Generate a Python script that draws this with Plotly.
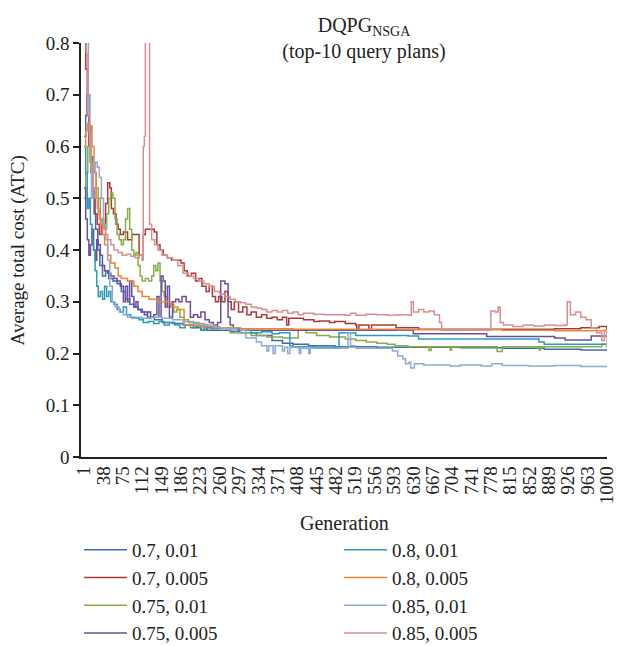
import plotly.graph_objects as go

# ---------------- data (step breakpoints) ----------------
series_names = ["0.7, 0.01", "0.7, 0.005", "0.75, 0.01", "0.75, 0.005",
                "0.8, 0.01", "0.8, 0.005", "0.85, 0.01", "0.85, 0.005"]

x_ticks = [1, 38, 75, 112, 149, 186, 223, 260, 297, 334, 371, 408, 445, 482, 519,
           556, 593, 630, 667, 704, 741, 778, 815, 852, 889, 926, 963, 1000]
y_ticks = [0, 0.1, 0.2, 0.3, 0.4, 0.5, 0.6, 0.7, 0.8]

g_07_001 = [1, 4, 7, 11, 14, 17, 20, 23, 27, 31, 36, 42, 48, 56, 64, 72, 80, 88, 96, 104, 112, 122,
            135, 150, 170, 190, 210, 225, 230, 236, 260, 280, 300, 330, 360, 380, 400, 430, 480, 560,
            640, 720, 800, 880, 950, 1000]
v_07_001 = [0.62, 0.66, 0.70, 0.64, 0.58, 0.52, 0.47, 0.44, 0.40, 0.37, 0.35, 0.36, 0.345, 0.34, 0.335,
            0.32, 0.305, 0.295, 0.29, 0.285, 0.28, 0.27, 0.265, 0.26, 0.258, 0.255, 0.25, 0.245, 0.255,
            0.245, 0.245, 0.243, 0.24, 0.235, 0.225, 0.22, 0.218, 0.215, 0.213, 0.212, 0.212, 0.211,
            0.21, 0.208, 0.207, 0.207]

g_07_0005 = [1, 4, 7, 10, 14, 18, 22, 26, 30, 34, 38, 42, 46, 50, 53, 57, 62, 66, 70, 76, 84, 92, 100,
             106, 110, 114, 118, 125, 135, 140, 146, 152, 160, 168, 178, 186, 192, 198, 206, 214, 220,
             226, 234, 240, 246, 252, 258, 264, 270, 276, 282, 288, 296, 304, 312, 320, 330, 340, 350,
             360, 370, 380, 388, 392, 420, 440, 450, 470, 480, 500, 520, 522, 526, 540, 545, 550, 580,
             597, 640, 700, 800, 900, 950, 985, 1000]
v_07_0005 = [0.9, 0.75, 0.66, 0.6, 0.55, 0.5, 0.47, 0.45, 0.43, 0.46, 0.45, 0.49, 0.53, 0.52, 0.48,
             0.47, 0.45, 0.44, 0.43, 0.435, 0.42, 0.43, 0.43, 0.39, 0.39, 0.43, 0.44, 0.44, 0.435, 0.41,
             0.40, 0.39, 0.385, 0.38, 0.38, 0.375, 0.36, 0.35, 0.355, 0.34, 0.345, 0.33, 0.32, 0.33,
             0.31, 0.30, 0.31, 0.30, 0.32, 0.30, 0.285, 0.30, 0.28, 0.29, 0.275, 0.28, 0.27, 0.275,
             0.268, 0.27, 0.265, 0.27, 0.255, 0.268, 0.265, 0.262, 0.263, 0.26, 0.262, 0.258, 0.255,
             0.245, 0.255, 0.255, 0.245, 0.255, 0.255, 0.25, 0.247, 0.247, 0.247, 0.248, 0.25, 0.252,
             0.24]

g_075_001 = [1, 4, 8, 12, 16, 20, 24, 28, 32, 36, 40, 44, 48, 52, 56, 60, 64, 68, 72, 76, 80, 84, 88,
             92, 96, 100, 104, 108, 112, 118, 124, 130, 134, 138, 142, 146, 150, 154, 160, 166, 172,
             178, 184, 192, 200, 210, 220, 235, 250, 280, 320, 350, 380, 410, 425, 445, 470, 500, 520,
             540, 560, 580, 595, 620, 660, 664, 700, 703, 790, 800, 870, 873, 940, 990, 1000]
v_075_001 = [0.5, 0.55, 0.6, 0.57, 0.56, 0.55, 0.52, 0.5, 0.46, 0.45, 0.44, 0.47, 0.5, 0.51, 0.5, 0.46,
             0.43, 0.42, 0.41, 0.42, 0.46, 0.48, 0.44, 0.40, 0.39, 0.395, 0.37, 0.35, 0.34, 0.345, 0.34,
             0.35, 0.37, 0.36, 0.375, 0.34, 0.32, 0.31, 0.29, 0.295, 0.28, 0.285, 0.27, 0.265, 0.26,
             0.26, 0.255, 0.25, 0.25, 0.24, 0.235, 0.232, 0.23, 0.245, 0.24, 0.235, 0.232, 0.228,
             0.225, 0.222, 0.22, 0.218, 0.215, 0.213, 0.206, 0.213, 0.207, 0.213, 0.204, 0.213, 0.207,
             0.213, 0.213, 0.218, 0.212]

g_075_0005 = [1, 4, 7, 10, 13, 16, 19, 22, 25, 28, 32, 36, 40, 46, 52, 58, 64, 70, 76, 80, 84, 88,
              92, 96, 100, 104, 110, 116, 122, 128, 134, 140, 144, 148, 152, 156, 160, 164, 170, 176,
              182, 188, 196, 204, 210, 218, 224, 232, 240, 248, 256, 262, 270, 276, 280, 286, 296,
              620, 630, 760, 770, 900, 920, 960, 970, 1000]
v_075_0005 = [0.52, 0.46, 0.42, 0.39, 0.41, 0.44, 0.40, 0.38, 0.42, 0.41, 0.39, 0.37, 0.36, 0.355,
              0.35, 0.345, 0.34, 0.33, 0.30, 0.33, 0.30, 0.34, 0.31, 0.29, 0.30, 0.285, 0.28, 0.275,
              0.28, 0.27, 0.275, 0.31, 0.27, 0.35, 0.34, 0.29, 0.33, 0.27, 0.30, 0.305, 0.30, 0.31,
              0.30, 0.27, 0.275, 0.27, 0.28, 0.265, 0.26, 0.255, 0.26, 0.34, 0.335, 0.27, 0.255, 0.25,
              0.245, 0.245, 0.238, 0.238, 0.233, 0.23, 0.226, 0.226, 0.234, 0.234]

g_08_001 = [1, 4, 7, 10, 13, 16, 19, 22, 25, 28, 32, 36, 40, 44, 48, 52, 58, 64, 70, 76, 82, 90, 98,
            106, 114, 124, 134, 144, 154, 164, 174, 184, 194, 204, 214, 224, 234, 244, 260, 280, 300,
            320, 340, 360, 374, 394, 400, 440, 480, 488, 500, 520, 620, 640, 860, 870, 880, 1000]
v_08_001 = [0.6, 0.55, 0.48, 0.5, 0.45, 0.42, 0.40, 0.36, 0.33, 0.31, 0.32, 0.305, 0.33, 0.31, 0.32,
            0.30, 0.295, 0.285, 0.28, 0.29, 0.275, 0.27, 0.268, 0.265, 0.26, 0.262, 0.258, 0.262,
            0.255, 0.26, 0.255, 0.25, 0.255, 0.25, 0.252, 0.245, 0.25, 0.248, 0.25, 0.248, 0.245,
            0.24, 0.242, 0.238, 0.24, 0.215, 0.213, 0.212, 0.212, 0.24, 0.24, 0.235, 0.234, 0.228,
            0.228, 0.222, 0.218, 0.218]

g_08_0005 = [1, 4, 8, 12, 16, 20, 24, 28, 32, 36, 40, 46, 52, 60, 66, 72, 84, 96, 104, 112, 125, 140,
             160, 168, 180, 192, 220, 260, 300, 400, 600, 800, 900, 1000]
v_08_0005 = [0.6, 0.63, 0.645, 0.64, 0.6, 0.55, 0.5, 0.47, 0.45, 0.43, 0.41, 0.39, 0.375, 0.365, 0.35,
             0.345, 0.34, 0.33, 0.32, 0.31, 0.305, 0.30, 0.30, 0.29, 0.285, 0.255, 0.252, 0.25, 0.248,
             0.247, 0.246, 0.245, 0.244, 0.242]

g_085_001 = [1, 6, 9, 12, 15, 18, 22, 26, 30, 34, 38, 42, 46, 50, 55, 60, 68, 76, 84, 92, 100, 110,
             130, 150, 170, 190, 210, 230, 250, 270, 290, 300, 310, 330, 340, 350, 354, 362, 366, 380,
             384, 390, 394, 410, 412, 415, 430, 433, 500, 505, 510, 520, 580, 590, 600, 610, 615, 622,
             625, 632, 650, 700, 720, 760, 780, 800, 850, 900, 950, 1000]
v_085_001 = [0.9, 0.85, 0.7, 0.6, 0.5, 0.55, 0.57, 0.56, 0.54, 0.5, 0.45, 0.42, 0.38, 0.33, 0.3, 0.29,
             0.28, 0.275, 0.27, 0.268, 0.27, 0.268, 0.27, 0.268, 0.265, 0.262, 0.258, 0.255, 0.25,
             0.248, 0.24, 0.245, 0.23, 0.222, 0.215, 0.205, 0.215, 0.2, 0.215, 0.205, 0.212, 0.2,
             0.212, 0.21, 0.2, 0.21, 0.2, 0.21, 0.21, 0.24, 0.215, 0.21, 0.21, 0.205, 0.195, 0.19,
             0.18, 0.183, 0.172, 0.18, 0.178, 0.176, 0.178, 0.176, 0.18, 0.177, 0.176, 0.177, 0.175,
             0.176]

g_085_0005 = [1, 5, 8, 11, 14, 18, 22, 26, 30, 34, 38, 42, 46, 52, 58, 66, 74, 82, 90, 98, 106, 112,
              114, 116, 118, 124, 126, 130, 136, 142, 150, 160, 170, 180, 190, 200, 210, 220, 230, 240,
              250, 260, 270, 280, 290, 300, 310, 320, 330, 340, 350, 360, 370, 380, 390, 400, 410, 420,
              440, 460, 480, 500, 510, 520, 540, 560, 580, 600, 620, 626, 630, 640, 650, 660, 670, 680,
              684, 700, 775, 778, 786, 792, 796, 802, 820, 840, 860, 880, 900, 920, 924, 930, 940, 950,
              960, 970, 980, 990, 995, 1000]
v_085_0005 = [0.9, 0.78, 0.66, 0.62, 0.56, 0.52, 0.5, 0.48, 0.46, 0.45, 0.44, 0.43, 0.42, 0.41, 0.40,
              0.395, 0.39, 0.392, 0.388, 0.385, 0.39, 0.38, 0.6, 0.62, 0.9, 0.9, 0.45, 0.42, 0.41,
              0.40, 0.39, 0.385, 0.38, 0.37, 0.355, 0.35, 0.345, 0.34, 0.335, 0.33, 0.32, 0.315, 0.31,
              0.305, 0.30, 0.298, 0.295, 0.29, 0.288, 0.285, 0.28, 0.283, 0.28, 0.283, 0.278, 0.28,
              0.275, 0.278, 0.276, 0.275, 0.275, 0.274, 0.278, 0.274, 0.276, 0.275, 0.274, 0.275,
              0.274, 0.30, 0.28, 0.285, 0.28, 0.282, 0.275, 0.26, 0.245, 0.245, 0.245, 0.282, 0.28,
              0.29, 0.26, 0.255, 0.252, 0.255, 0.253, 0.255, 0.254, 0.255, 0.30, 0.275, 0.28, 0.27,
              0.265, 0.25, 0.24, 0.225, 0.245, 0.215]

gens = [g_07_001, g_07_0005, g_075_001, g_075_0005, g_08_001, g_08_0005, g_085_001, g_085_0005]
vals = [v_07_001, v_07_0005, v_075_001, v_075_0005, v_08_001, v_08_0005, v_085_001, v_085_0005]

colors = ["#3e6eaa", "#a93a3c", "#86ad45", "#6c4f9a", "#2f9ab6", "#ee8530", "#8eaad6", "#d98f8f"]

FONT = "Liberation Serif"
W, H = 618, 646

fig = go.Figure()
for i, (name, g, v, c) in enumerate(zip(series_names, gens, vals, colors)):
    fig.add_trace(go.Scatter(
        x=g, y=v, name=name, mode="lines", line=dict(color=c, width=1.5, shape="hv"),
        legend="legend" if i < 4 else "legend2", showlegend=True,
    ))

leg_common = dict(xanchor="left", yanchor="top", xref="container", yref="container",
                  bgcolor="rgba(0,0,0,0)", font=dict(family=FONT, size=19, color="#222"),
                  tracegroupgap=0, itemwidth=43)

fig.update_layout(
    width=W, height=H,
    margin=dict(l=81, r=11, t=43, b=189, autoexpand=False),
    paper_bgcolor="white", plot_bgcolor="white",
    font=dict(family=FONT, size=19, color="#222"),
    title=dict(text="DQPG<sub>NSGA</sub><br>(top-10 query plans)", x=364 / W, xanchor="center",
               y=1 - 32 / H, yanchor="middle", font=dict(family=FONT, size=20, color="#222")),
    legend=dict(x=79 / W, y=1 - 531 / H, **leg_common),
    legend2=dict(x=339 / W, y=1 - 531 / H, **leg_common),
    annotations=[
        dict(text="Average total cost (ATC)", xref="paper", yref="paper", x=-0.119, y=0.5,
             xanchor="center", yanchor="middle", textangle=-90, showarrow=False,
             font=dict(family=FONT, size=19, color="#222")),
        dict(text="Generation", xref="paper", yref="paper", x=0.5, y=-0.159,
             xanchor="center", yanchor="middle", showarrow=False,
             font=dict(family=FONT, size=20, color="#222")),
    ],
)
fig.update_xaxes(
    range=[-5, 1000], tickmode="array", tickvals=x_ticks, ticktext=[str(t) for t in x_ticks],
    tickangle=-90, showgrid=False, zeroline=False, showline=True, linecolor="#222", linewidth=1.5,
    ticks="", tickfont=dict(family=FONT, size=19, color="#222"), automargin=False,
)
fig.update_yaxes(
    range=[0, 0.8], tickmode="array", tickvals=y_ticks, ticktext=["0", "0.1", "0.2", "0.3", "0.4",
                                                                   "0.5", "0.6", "0.7", "0.8"],
    showgrid=False, zeroline=False, showline=True, linecolor="#222", linewidth=1.5,
    ticks="outside", ticklen=6, tickcolor="#222", tickwidth=1.5,
    tickfont=dict(family=FONT, size=19, color="#222"), automargin=False,
)

fig.write_html("out.html")
